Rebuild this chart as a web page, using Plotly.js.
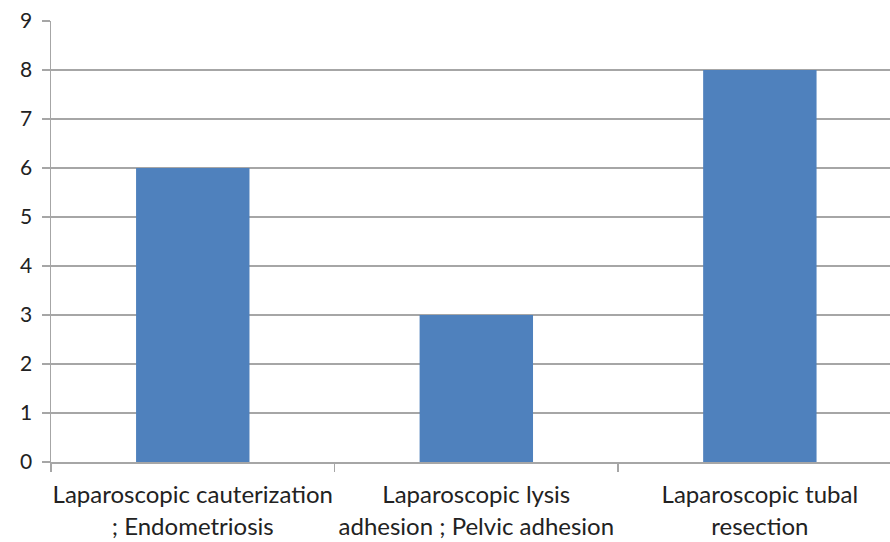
<!DOCTYPE html>
<html>
<head>
<meta charset="utf-8">
<script src="https://cdn.plot.ly/plotly-3.0.1.min.js"></script>
<style>html,body{margin:0;padding:0;background:#fff;}#chart{width:890px;height:542px;}</style>
</head>
<body>
<div id="chart"></div>
<script>
const categories = [
  "Laparoscopic cauterization<br>; Endometriosis",
  "Laparoscopic lysis<br>adhesion ; Pelvic adhesion",
  "Laparoscopic tubal<br>resection"
];
const values = [6, 3, 8];
const yTicks = [0, 1, 2, 3, 4, 5, 6, 7, 8, 9];

const trace = {
  type: "bar",
  x: categories,
  y: values,
  width: 0.4,
  marker: {color: "#4f81bd", line: {width: 0}},
  hoverinfo: "none"
};

const layout = {
  width: 890, height: 542,
  margin: {l: 51, r: 0, t: 21, b: 80},
  paper_bgcolor: "#fff", plot_bgcolor: "#fff",
  showlegend: false,
  font: {family: "Lato, 'Open Sans', sans-serif", size: 20, color: "#222"},
  xaxis: {
    type: "category",
    range: [-0.5, 2.459],
    tickson: "boundaries",
    tickangle: 0,
    ticks: "outside", ticklen: 8, tickcolor: "#a6a6a6", tickwidth: 1.5,
    showline: true, linecolor: "#a6a6a6", linewidth: 1.5,
    showgrid: false, zeroline: false,
    ticklabelstandoff: 11,
    tickfont: {size: 24}
  },
  yaxis: {
    range: [0, 9],
    tickmode: "array", tickvals: yTicks,
    ticks: "outside", ticklen: 8, tickcolor: "#a6a6a6", tickwidth: 1.5,
    showline: true, linecolor: "#a6a6a6", linewidth: 1.5,
    showgrid: true, gridcolor: "#a6a6a6", gridwidth: 1.5,
    zeroline: false,
    ticklabelstandoff: 5,
    tickfont: {size: 21}
  },
  bargap: 0.6
};

Plotly.newPlot("chart", [trace], layout, {displayModeBar: false, staticPlot: true});
</script>
</body>
</html>
